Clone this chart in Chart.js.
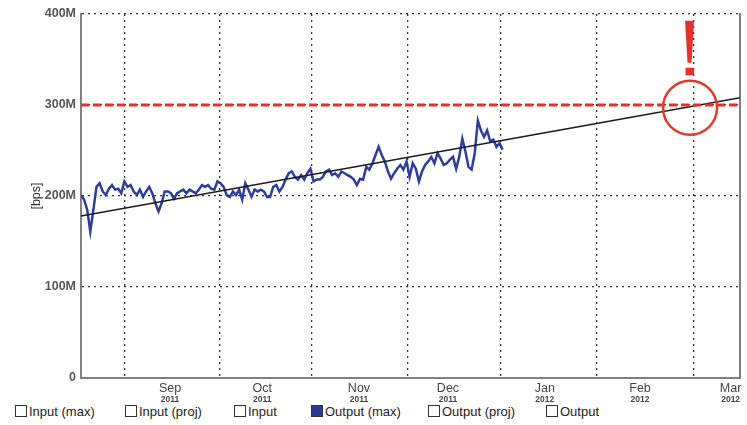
<!DOCTYPE html>
<html>
<head>
<meta charset="utf-8">
<script src="https://cdn.jsdelivr.net/npm/chart.js@4/dist/chart.umd.min.js"></script>
<style>
  body { margin: 0; background: #fff; font-family: "Liberation Sans", Arial, sans-serif; }
  #wrap { position: relative; width: 747px; height: 425px; }
  #legend { position: absolute; left: 0; top: 404px; width: 747px; height: 21px; }
  .item { position: absolute; top: 1px; font-size: 13px; color: #222; line-height: 14px; white-space: nowrap; }
  .box { display: inline-block; width: 10px; height: 10px; border: 1px solid #333; background: #fff; margin-right: 2px; vertical-align: -1px; }
</style>
</head>
<body>
<div id="wrap">
  <canvas id="trafficChart" width="747" height="404"></canvas>
  <div id="legend"></div>
</div>
<script>
// ============================================================
// Traffic forecast - Output (max) vs linear projection
// ============================================================

// x axis is in days counted from 18 Aug 2011
const AXIS_MAX_DAY = 211;
const MONTH_START_DAYS = [14, 44.5, 74, 104.5, 134.5, 165, 196];
const LABEL_DAYS = [28.5, 58, 89, 117.5, 148.5, 179, 208];
const MONTH_LABELS = ['Sep', 'Oct', 'Nov', 'Dec', 'Jan', 'Feb', 'Mar'];
const YEAR_LABELS = ['2011', '2011', '2011', '2011', '2012', '2012', '2012'];

// Output (max), in Mbps, one reading per day
const DATA_END_DAY = 135;
const outputMax = [
    201, 196, 185, 161, 185, 210, 214, 205, 201, 208, 212, 207, 208, 203, 216, 210, 212,
    205, 201, 207, 199, 205, 210, 203, 192, 183, 192, 205, 205, 203, 197, 203, 205,
    207, 203, 207, 205, 203, 207, 212, 210, 212, 208, 207, 216, 214, 210, 201, 199,
    205, 201, 207, 196, 214, 207, 199, 207, 205, 207, 205, 199, 199, 210, 212, 205, 210,
    218, 225, 227, 221, 218, 223, 218, 225, 230, 216, 218, 218, 221, 227, 229, 223,
    225, 221, 227, 225, 223, 221, 218, 212, 219, 218, 232, 229, 236, 245, 254, 245, 238,
    227, 219, 225, 230, 234, 229, 238, 221, 236, 230, 216, 227, 234, 238, 243, 236,
    247, 241, 234, 236, 240, 243, 230, 243, 263, 249, 232, 229, 247, 283, 272, 265,
    272, 260, 262, 254, 258, 251
];

// projection (start / end of axis) and threshold, in Mbps
const trendEnds = [178, 308];
const threshold = 300;
const alertPoint = { day: 195, value: 297 };

const legendNames = ['Input (max)', 'Input (proj)', 'Input', 'Output (max)', 'Output (proj)', 'Output'];
const legendFilled = [false, false, false, true, false, false];

const M = 1e6;
const FONT = '"Liberation Sans", Arial, sans-serif';

// Build html legend
function buildLegend() {
    const lefts = [15, 125, 234, 311, 428, 546];
    const el = document.getElementById('legend');
    legendNames.forEach((name, i) => {
        const item = document.createElement('span');
        item.className = 'item';
        item.style.left = lefts[i] + 'px';
        const box = document.createElement('span');
        box.className = 'box';
        if (legendFilled[i]) box.style.background = '#2b3a94';
        item.appendChild(box);
        item.appendChild(document.createTextNode(name));
        el.appendChild(item);
    });
}

// Red circle + exclamation mark around the crossing point
const alertPlugin = {
    id: 'alert',
    afterDatasetsDraw(chart) {
        const { ctx, scales } = chart;
        const cx = scales.x.getPixelForValue(alertPoint.day);
        const cy = scales.y.getPixelForValue(alertPoint.value * M);
        ctx.save();
        ctx.strokeStyle = '#e23a2c';
        ctx.lineWidth = 2.5;
        ctx.beginPath();
        ctx.arc(cx, cy, 27, 0, Math.PI * 2);
        ctx.stroke();
        ctx.fillStyle = '#e8302a';
        ctx.beginPath();
        ctx.moveTo(cx - 5, cy - 87);
        ctx.lineTo(cx + 4, cy - 87);
        ctx.lineTo(cx + 1.5, cy - 45);
        ctx.lineTo(cx - 2.5, cy - 45);
        ctx.closePath();
        ctx.fill();
        ctx.fillRect(cx - 4.5, cy - 40, 8.5, 7.5);
        ctx.restore();
    }
};

function createChart() {
    const step = DATA_END_DAY / (outputMax.length - 1);
    const ctx = document.getElementById('trafficChart').getContext('2d');
    return new Chart(ctx, {
        type: 'line',
        data: {
            datasets: [{
                label: 'Output (max)',
                data: outputMax.map((v, i) => ({ x: i * step, y: v * M })),
                borderColor: '#2f3d9c',
                borderWidth: 2.5,
                pointRadius: 0,
                tension: 0,
                order: 3
            }, {
                label: 'Output (proj)',
                data: [{ x: 0, y: trendEnds[0] * M }, { x: AXIS_MAX_DAY, y: trendEnds[1] * M }],
                borderColor: '#1a1a1a',
                borderWidth: 1.6,
                pointRadius: 0,
                order: 2
            }, {
                label: 'Threshold',
                data: [{ x: 0, y: threshold * M }, { x: AXIS_MAX_DAY, y: threshold * M }],
                borderColor: '#e8302a',
                borderWidth: 3,
                borderDash: [8, 4],
                pointRadius: 0,
                order: 1
            }]
        },
        options: {
            responsive: false,
            animation: false,
            devicePixelRatio: 1,
            layout: { padding: { left: 0, right: 7, top: 14, bottom: 0 } },
            plugins: { legend: { display: false }, tooltip: { enabled: false } },
            scales: {
                x: {
                    type: 'linear',
                    position: 'bottom',
                    min: 0,
                    max: AXIS_MAX_DAY,
                    weight: 0,
                    afterBuildTicks: (s) => {
                        s.ticks = MONTH_START_DAYS.concat(LABEL_DAYS).sort((a, b) => a - b).map(v => ({ value: v }));
                    },
                    afterFit: (s) => { s.height = 17; },
                    ticks: {
                        autoSkip: false,
                        maxRotation: 0,
                        padding: 3,
                        color: '#444',
                        font: { family: FONT, size: 12.5 },
                        callback: (v) => {
                            const idx = LABEL_DAYS.indexOf(v);
                            return idx >= 0 ? MONTH_LABELS[idx] : '';
                        }
                    },
                    grid: {
                        drawTicks: false,
                        lineWidth: 1.3,
                        color: (c) => (c.tick && MONTH_START_DAYS.includes(c.tick.value)) ? '#333' : 'transparent'
                    },
                    border: { display: true, color: '#808080', width: 2, dash: [2, 4] }
                },
                xYear: {
                    type: 'linear',
                    position: 'bottom',
                    min: 0,
                    max: AXIS_MAX_DAY,
                    weight: 1,
                    afterBuildTicks: (s) => { s.ticks = LABEL_DAYS.map(v => ({ value: v })); },
                    afterFit: (s) => { s.height = 9; },
                    ticks: {
                        autoSkip: false,
                        maxRotation: 0,
                        padding: 0,
                        color: '#444',
                        font: { family: FONT, size: 8.5, weight: 'bold' },
                        callback: (v) => YEAR_LABELS[LABEL_DAYS.indexOf(v)]
                    },
                    grid: { display: false, drawTicks: false },
                    border: { display: false }
                },
                y: {
                    min: 0,
                    max: 400 * M,
                    afterFit: (s) => { s.width = 81; },
                    ticks: {
                        stepSize: 100 * M,
                        padding: 5,
                        color: '#555',
                        font: { family: FONT, size: 12.5, weight: 'bold' },
                        callback: (v) => v === 0 ? '0' : (v / M) + 'M'
                    },
                    grid: { drawTicks: false, lineWidth: 1.3, color: '#333' },
                    border: { display: true, color: '#808080', width: 2, dash: [2, 4] },
                    title: {
                        display: true,
                        text: '[bps]',
                        color: '#333',
                        font: { family: FONT, size: 12.5 },
                        padding: { top: 29, bottom: 0 }
                    }
                },
                y2: {
                    position: 'right',
                    min: 0,
                    max: 400 * M,
                    afterFit: (s) => { s.width = 0; },
                    ticks: { display: false },
                    grid: { drawOnChartArea: false, drawTicks: false },
                    border: { display: true, color: '#808080', width: 2 }
                }
            }
        },
        plugins: [alertPlugin]
    });
}

buildLegend();
createChart();
</script>
</body>
</html>
